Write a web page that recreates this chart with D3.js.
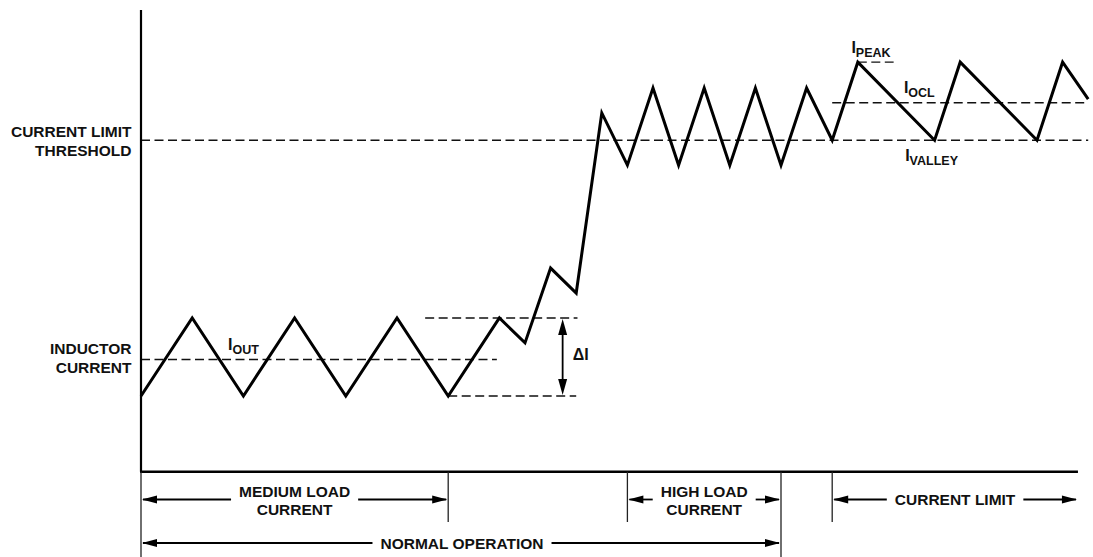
<!DOCTYPE html>
<html><head><meta charset="utf-8">
<script src="https://cdn.jsdelivr.net/npm/d3@7"></script>
<style>
html,body{margin:0;padding:0;background:#fff;}
text{font-family:"Liberation Sans",Arial,Helvetica,sans-serif;font-weight:bold;fill:#111;}
</style></head>
<body>
<svg id="chart" width="1093" height="557"></svg>
<script>
// ---- data (time in switching half-periods, current in arbitrary units) ----
const waveTime    = [0, 2, 4, 6, 8, 10, 12, 14, 15, 16, 17, 18, 19, 20, 21, 22, 23, 24, 25, 26, 27, 28, 31, 32, 35, 36, 37];
const waveCurrent = [16.4, 33.3, 16.4, 33.3, 16.4, 33.3, 16.4, 33.3, 27.9, 44.1, 38.7, 77.7, 66.4, 83.1, 66.4, 83.1, 66.4, 83.1, 66.4, 83.1, 71.8, 88.7, 71.8, 88.7, 71.8, 88.7, 80.7];

const refNames  = ["threshold", "iout", "iocl", "ipeak", "deltaTop", "deltaBottom"];
const refLevels = [71.8, 24.3, 79.9, 88.7, 33.3, 16.4];
const refStart  = [0, 0, 27, 28, 11.1, 12];
const refEnd    = [37, 13.9, 37, 29.4, 17.05, 17.0];

const leftLabels   = [["CURRENT LIMIT", "THRESHOLD"], ["INDUCTOR", "CURRENT"]];
const leftLabelLvl = [71.8, 24.3];

const regionNames = [["MEDIUM LOAD", "CURRENT"], ["HIGH LOAD", "CURRENT"], ["CURRENT LIMIT"], ["NORMAL OPERATION"]];
const regionStart = [0, 19, 27, 0];
const regionEnd   = [12, 25, 36.6, 25];
const regionRow   = [0, 0, 0, 1];

const tickTimes = [0, 12, 19, 25, 27];
const tickLong  = [true, false, false, true, false];

const deltaTime = 16.47;
const axisEndTime = 36.6;
const axisTopCurrent = 100;

// ---- scales ----
const x = d3.scaleLinear().domain([0, 37]).range([141, 141 + 25.6 * 37]);
const y = d3.scaleLinear().domain([0, 100]).range([471.7, 10]);

const svg = d3.select("#chart");

// dashed reference lines
refNames.forEach((n, i) => {
  svg.append("line")
    .attr("x1", x(refStart[i])).attr("x2", x(refEnd[i]))
    .attr("y1", y(refLevels[i])).attr("y2", y(refLevels[i]))
    .attr("stroke", "#111").attr("stroke-width", 1.4)
    .attr("stroke-dasharray", "9,4.5");
});

// axes
svg.append("line").attr("x1", x(0)).attr("x2", x(0)).attr("y1", y(axisTopCurrent)).attr("y2", y(0))
  .attr("stroke", "#000").attr("stroke-width", 2.2);
svg.append("line").attr("x1", x(0) - 1).attr("x2", x(axisEndTime)).attr("y1", y(0)).attr("y2", y(0))
  .attr("stroke", "#000").attr("stroke-width", 2.4);

// waveform
const line = d3.line().x((d, i) => x(waveTime[i])).y(d => y(d));
svg.append("path").datum(waveCurrent).attr("d", line)
  .attr("fill", "none").attr("stroke", "#000").attr("stroke-width", 3)
  .attr("stroke-linejoin", "miter").attr("stroke-miterlimit", 10);

// arrowhead helper
function head(px, py, dir, len, hw) {
  let p;
  if (dir === "l") p = [[px, py], [px + len, py - hw], [px + len, py + hw]];
  if (dir === "r") p = [[px, py], [px - len, py - hw], [px - len, py + hw]];
  if (dir === "u") p = [[px, py], [px - hw, py + len], [px + hw, py + len]];
  if (dir === "d") p = [[px, py], [px - hw, py - len], [px + hw, py - len]];
  svg.append("path").attr("d", "M" + p.map(q => q.join(",")).join("L") + "Z").attr("fill", "#000");
}

// delta I arrow
const dx = x(deltaTime);
svg.append("line").attr("x1", dx).attr("x2", dx).attr("y1", y(33.3) + 6).attr("y2", y(16.4) - 6)
  .attr("stroke", "#000").attr("stroke-width", 1.8);
head(dx, y(33.3) + 1, "u", 16, 4.5);
head(dx, y(16.4) - 1, "d", 16, 4.5);
svg.append("text").attr("x", dx + 10).attr("y", 359.5).attr("font-size", 16).text("ΔI");

// subscript labels
function subLabel(px, py, sub) {
  const t = svg.append("text").attr("x", px).attr("y", py).attr("font-size", 16);
  t.append("tspan").text("I");
  t.append("tspan").attr("font-size", 12.5).attr("dy", 4).text(sub);
}
subLabel(x(3.4), 349.5, "OUT");
subLabel(x(27.75), 53, "PEAK");
subLabel(x(29.8), 93, "OCL");
subLabel(x(29.85), 161, "VALLEY");

// left labels
leftLabels.forEach((lines, i) => {
  const yc = y(leftLabelLvl[i]);
  lines.forEach((s, j) => {
    svg.append("text").attr("x", 131.5).attr("y", yc - 3 + j * 19 - (i === 0 ? 0 : 2.5))
      .attr("text-anchor", "end").attr("font-size", 15.5).text(s);
  });
});

// ticks below axis
tickTimes.forEach((t, i) => {
  svg.append("line").attr("x1", x(t)).attr("x2", x(t)).attr("y1", y(0)).attr("y2", tickLong[i] ? 557 : 522)
    .attr("stroke", "#222").attr("stroke-width", 1.3);
});

// region arrows with labels
const rowY = [499.5, 543];
regionNames.forEach((lines, i) => {
  const x1 = x(regionStart[i]), x2 = x(regionEnd[i]);
  const cx = (x1 + x2) / 2 + (i === 3 ? 1 : 0);
  const ry = rowY[regionRow[i]];
  let maxW = 0;
  const n = lines.length;
  lines.forEach((s, j) => {
    const base = n === 2 ? ry - 3 + j * 18.5 : ry + 5.5;
    const tx = svg.append("text").attr("x", cx).attr("y", base).attr("text-anchor", "middle")
      .attr("font-size", 15.5).text(s);
    maxW = Math.max(maxW, tx.node().getComputedTextLength());
  });
  const pad = 8;
  svg.append("line").attr("x1", x1 + 2).attr("x2", cx - maxW / 2 - pad).attr("y1", ry).attr("y2", ry)
    .attr("stroke", "#000").attr("stroke-width", 1.8);
  svg.append("line").attr("x1", cx + maxW / 2 + pad).attr("x2", x2 - 2).attr("y1", ry).attr("y2", ry)
    .attr("stroke", "#000").attr("stroke-width", 1.8);
  head(x1 + 1, ry, "l", 15, 4);
  head(x2 - 1, ry, "r", 15, 4);
});
</script>
</body></html>
